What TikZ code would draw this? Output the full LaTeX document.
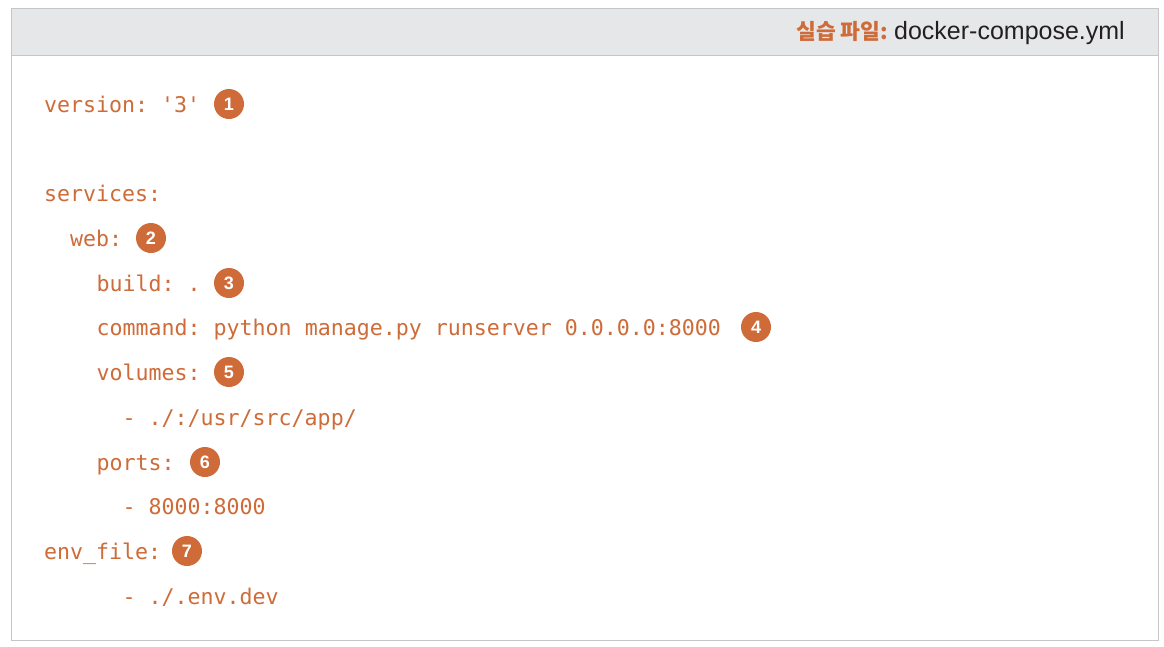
\documentclass[tikz,border=0pt]{standalone}
\usepackage{fontspec}
\setmainfont{Liberation Sans}
\setmonofont{DejaVu Sans Mono}
\newfontfamily\krfont{Noto Sans CJK KR}
\definecolor{codeorange}{HTML}{CF6B38}
\definecolor{headgray}{HTML}{E6E7E9}
\definecolor{edgegray}{HTML}{C4C6C8}
\definecolor{inkdark}{HTML}{231F20}
\tikzset{
  codeline/.style={anchor=base west,inner sep=0pt,text=codeorange,font=\fontsize{21.6}{21.6}\selectfont\ttfamily},
  badge/.style={circle,fill=codeorange,minimum size=30pt,inner sep=0pt,text=white,font=\fontsize{18}{18}\selectfont\bfseries},
  frameline/.style={draw=edgegray,line width=1pt}
}
\begin{document}
\begin{tikzpicture}[x=1pt,y=-1pt]
\useasboundingbox (0,0) rectangle (1164,646);
\fill[white] (0,0) rectangle (1164,646);
\draw[frameline] (11,8) rectangle (1158,640);
\draw[frameline,fill=headgray] (11,8) rectangle (1158,55);
\node[anchor=base east,inner sep=0pt,font=\fontsize{25}{25}\selectfont,text=inkdark] (file) at (1125,39) {docker-compose.yml};
\node[anchor=base east,inner sep=0pt,font=\fontsize{21.5}{21.5}\selectfont\krfont\bfseries,text=codeorange] (lab) at (888,39) {실습 파일:};
\node[codeline] (l1) at (44,112) {version: '3'};
\node[codeline] (l2) at (44,201) {services:};
\node[codeline] (l3) at (70,246) {web:};
\node[codeline] (l4) at (96.5,291) {build: .};
\node[codeline] (l5) at (96.5,335) {command: python manage.py runserver 0.0.0.0:8000};
\node[codeline] (l6) at (96.5,380) {volumes:};
\node[codeline] (l7) at (122.5,425) {- ./:/usr/src/app/};
\node[codeline] (l8) at (96.5,470) {ports:};
\node[codeline] (l9) at (122.5,514) {- 8000:8000};
\node[codeline] (l10) at (44,559) {env\_file:};
\node[codeline] (l11) at (122.5,604) {- ./.env.dev};
\node[badge] (b1) at (229,104) {1};
\node[badge] (b2) at (151,238) {2};
\node[badge] (b3) at (229,283) {3};
\node[badge] (b4) at (756,327) {4};
\node[badge] (b5) at (229,372) {5};
\node[badge] (b6) at (205,462) {6};
\node[badge] (b7) at (187,551) {7};
\end{tikzpicture}
\end{document}
